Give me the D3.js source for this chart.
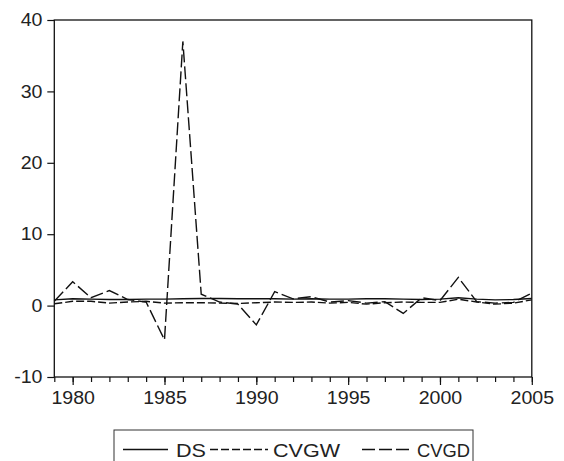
<!DOCTYPE html>
<html>
<head>
<meta charset="utf-8">
<script src="https://cdn.jsdelivr.net/npm/d3@7"></script>
<style>
  body { margin: 0; background: #fff; }
  svg { display: block; }
  text { font-family: "Liberation Sans", Arial, sans-serif; fill: #222; }
</style>
</head>
<body>
<svg id="chart" width="564" height="461"></svg>
<script>
var years = d3.range(1979, 2006)

var ds = [0.80, 0.95, 0.90, 0.85, 0.85, 0.90, 0.90, 0.95, 1.00, 1.00, 0.95, 0.95, 0.95, 0.90,
          0.95, 0.90, 0.90, 0.95, 0.95, 0.90, 0.85, 0.90, 1.10, 0.90, 0.80, 0.85, 1.00]
var cvgw = [0.25, 0.60, 0.60, 0.35, 0.50, 0.60, 0.35, 0.40, 0.40, 0.35, 0.30, 0.40, 0.50, 0.45,
            0.50, 0.35, 0.45, 0.20, 0.40, 0.50, 0.45, 0.45, 0.90, 0.50, 0.20, 0.35, 0.80]
var cvgd = [0.60, 3.35, 1.10, 2.10, 0.85, 0.50, -4.80, 37.0, 1.60, 0.50, 0.20, -2.70, 1.95, 0.95,
            1.25, 0.50, 0.70, 0.35, 0.55, -1.10, 1.10, 0.70, 3.95, 0.55, 0.35, 0.45, 1.75]

var yTicks = [-10, 0, 10, 20, 30, 40]
var xLabels = [1980, 1985, 1990, 1995, 2000, 2005]

var series = [
  { name: "DS", values: ds, dash: null },
  { name: "CVGW", values: cvgw, dash: "8,3" },
  { name: "CVGD", values: cvgd, dash: "13,4" }
]

var svg = d3.select("#chart")
var plotLeft = 54.3, plotRight = 531.8, plotTop = 20, plotBottom = 377
var stretch = 1.12   // the reference text is a bit wider than Arial

var x = d3.scaleLinear().domain([1979, 2005]).range([plotLeft, plotRight])
var y = d3.scaleLinear().domain([-10, 40]).range([plotBottom, plotTop])

// frame
svg.append("rect")
    .attr("x", plotLeft).attr("y", plotTop)
    .attr("width", plotRight - plotLeft).attr("height", plotBottom - plotTop)
    .attr("fill", "none").attr("stroke", "#111").attr("stroke-width", 1.3)

// y axis
var yAxis = svg.append("g")
    .attr("transform", "translate(" + plotLeft + ",0)")
    .call(d3.axisLeft(y).tickValues(yTicks).tickSize(7).tickFormat(function(d) { return String(d) }))
yAxis.select(".domain").remove()
yAxis.selectAll("line").attr("stroke", "#111").attr("stroke-width", 1.2)
yAxis.selectAll("text")
    .attr("font-size", 17.5).attr("font-family", null).attr("fill", "#222")
    .attr("x", -11.8 / stretch)
    .attr("transform", "scale(" + stretch + ",1)")

// x axis: minor ticks every year, longer at labelled years
var xAxisMinor = svg.append("g")
    .attr("transform", "translate(0," + plotBottom + ")")
    .call(d3.axisBottom(x).tickValues(years).tickSize(5).tickFormat(""))
xAxisMinor.select(".domain").remove()
xAxisMinor.selectAll("line").attr("stroke", "#111").attr("stroke-width", 1.2)

var xAxis = svg.append("g")
    .attr("transform", "translate(0," + plotBottom + ")")
    .call(d3.axisBottom(x).tickValues(xLabels).tickSize(8).tickPadding(6.5).tickFormat(d3.format("d")))
xAxis.select(".domain").remove()
xAxis.selectAll("line").attr("stroke", "#111").attr("stroke-width", 1.2)
xAxis.selectAll("text")
    .attr("font-size", 17.5).attr("font-family", null).attr("fill", "#222")
    .attr("transform", "scale(" + stretch + ",1)")

// lines
var line = d3.line()
    .x(function(d, i) { return x(years[i]) })
    .y(function(d) { return y(d) })

svg.append("g").selectAll("path")
    .data(series)
    .enter().append("path")
    .attr("d", function(d) { return line(d.values) })
    .attr("fill", "none")
    .attr("stroke", "#111")
    .attr("stroke-width", 1.4)
    .attr("stroke-dasharray", function(d) { return d.dash })

// legend
var legend = svg.append("g")
legend.append("rect")
    .attr("x", 114).attr("y", 430)
    .attr("width", 359).attr("height", 45)
    .attr("fill", "none").attr("stroke", "#333").attr("stroke-width", 1)

var legendItems = [
  { x1: 123, x2: 168, tx: 176, w: 30 },
  { x1: 210, x2: 268, tx: 273, w: 67 },
  { x1: 362, x2: 413, tx: 417, w: 53 }
]
legendItems.forEach(function(p, i) {
  legend.append("line")
      .attr("x1", p.x1).attr("x2", p.x2)
      .attr("y1", 449.5).attr("y2", 449.5)
      .attr("stroke", "#111").attr("stroke-width", 1.4)
      .attr("stroke-dasharray", series[i].dash)
  legend.append("text")
      .attr("x", p.tx).attr("y", 456.5)
      .attr("font-size", 18.5)
      .attr("textLength", p.w)
      .attr("lengthAdjust", "spacingAndGlyphs")
      .text(series[i].name)
})
</script>
</body>
</html>
